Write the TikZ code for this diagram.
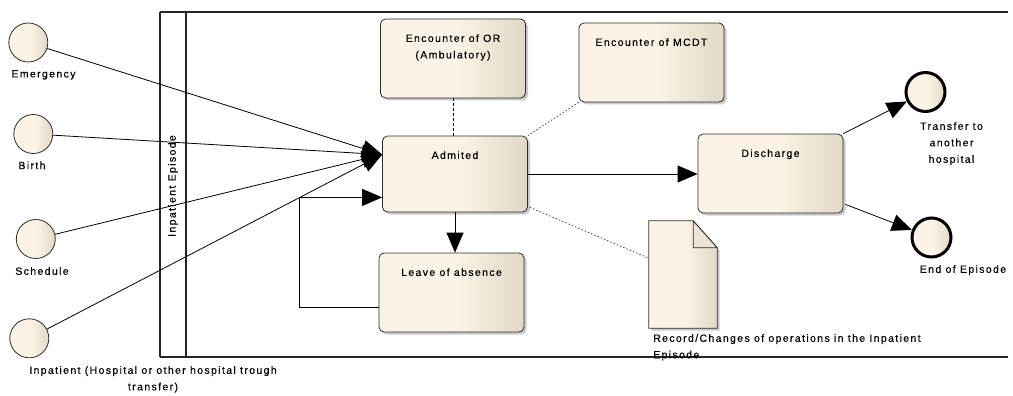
\documentclass[tikz,border=0pt]{standalone}
\usepackage{fontspec}
\newfontfamily\diagfont{Liberation Sans}[LetterSpace=13, FakeBold=0.35]
\usetikzlibrary{arrows.meta,shadows,calc}

\definecolor{boxlight}{RGB}{251,243,229}
\definecolor{boxdark}{RGB}{226,216,198}
\definecolor{edgegray}{RGB}{45,45,45}
\pgfdeclarehorizontalshading{beige}{100bp}{color(0bp)=(boxlight); color(25bp)=(boxlight); color(52bp)=(boxlight); color(75bp)=(boxdark); color(100bp)=(boxdark)}

\tikzset{
  every node/.style={font=\diagfont\fontsize{10.5}{16.5}\selectfont},
  softshadow/.style={drop shadow={shadow xshift=2.5pt, shadow yshift=-2.5pt, fill=black!35, opacity=0.6}},
  task/.style={draw=edgegray, line width=0.8pt, rounded corners=5pt, shade, shading=beige,
    minimum width=145, minimum height=79, inner sep=0, softshadow},
  tasktext/.style={anchor=north, yshift=-15.5pt, align=center, inner sep=0},
  startev/.style={circle, draw=edgegray, line width=0.8pt, shade, shading=beige, minimum size=39, inner sep=0},
  endev/.style={circle, draw=black, line width=3pt, shade, shading=beige, minimum size=39, inner sep=0},
  lbl/.style={anchor=north, align=center, inner sep=0},
  flow/.style={draw=black, line width=0.8pt, -{Triangle[length=20pt,width=17pt]}},
  assocdash/.style={draw=black, line width=0.7pt, dash pattern=on 3pt off 2pt},
  assocdot/.style={draw=black!80, line width=0.7pt, dash pattern=on 1.5pt off 2pt},
  poolline/.style={draw=black!85, line width=1.4pt},
}

\begin{document}
\begin{tikzpicture}[x=1pt, y=-1pt]
\useasboundingbox (0,0) rectangle (1013,396);

% pool and lane
\draw[poolline] (160,12) -- (1008,12);
\draw[poolline] (160,357) -- (1008,357);
\draw[poolline] (160,12) -- (160,357);
\draw[poolline] (186,12) -- (186,357);
\node[rotate=90, inner sep=0] (lane) at (173,186) {Inpatient Episode};

% start events
\node[startev] (em) at (28.3,42.5) {};
\node[startev] (bi) at (33.3,134) {};
\node[startev] (sc) at (35.8,239) {};
\node[startev] (ip) at (29.3,338.3) {};
\node[lbl] (eml) at (43.5,70) {Emergency};
\node[lbl] (bil) at (32,161.3) {Birth};
\node[lbl] (scl) at (42,267) {Schedule};
\node[lbl] (ipl) at (153,366) {Inpatient (Hospital or other hospital trough\\transfer)};

% tasks
\node[task] (or) at (453,58.5) {};
\node[tasktext] (ort) at (or.north) {Encounter of OR\\(Ambulatory)};
\node[task, minimum height=76] (adm) at (455,174) {};
\node[tasktext] (admt) at (adm.north) {Admited};
\node[task] (mcdt) at (651.5,62.5) {};
\node[tasktext] (mcdtt) at (mcdt.north) {Encounter of MCDT};
\node[task] (dis) at (770.5,173.5) {};
\node[tasktext] (dist) at (dis.north) {Discharge};
\node[task] (lv) at (451.5,292.5) {};
\node[tasktext] (lvt) at (lv.north) {Leave of absence};

% data object
\node[minimum width=68, minimum height=107, inner sep=0] (doc) at (683,274.5) {};
\path[draw=edgegray, line width=0.8pt, shade, shading=beige, softshadow]
  (doc.north west) -- ($(doc.north east)+(-24,0)$) -- ($(doc.north east)+(0,27)$)
  -- (doc.south east) -- (doc.south west) -- cycle;
\path[draw=edgegray, line width=0.8pt, fill=boxdark!55!boxlight, line join=round]
  ($(doc.north east)+(-24,0)$) -- ($(doc.north east)+(-24,27)$) -- ($(doc.north east)+(0,27)$) -- cycle;
\node[anchor=north west, align=left, inner sep=0] (docl) at (653,334)
  {Record/Changes of operations in the Inpatient\\Episode};

% end events
\node[endev] (tr) at (925.5,92) {};
\node[endev] (ee) at (931.5,237.5) {};
\node[lbl] (trl) at (951.5,122) {Transfer to\\another\\hospital};
\node[lbl] (eel) at (963,265) {End of Episode};

% sequence flows
\coordinate (admin) at ($(adm.north west)+(0,19)$);
\coordinate (admback) at ($(adm.south west)+(0,-15)$);
\coordinate (lvout) at ($(lv.south west)+(0,-25)$);
\draw[flow] (em) -- (admin);
\draw[flow] (bi) -- (admin);
\draw[flow] (sc) -- (admin);
\draw[flow] (ip) -- (admin);
\draw[flow] (lvout) -- ++(-79,0) |- (admback);
\draw[flow] (adm.south) -- (adm.south |- lv.north);
\draw[flow] (adm.east) -- (adm.east -| dis.west);
\draw[flow] (dis.north east) -- (tr);
\draw[flow] ($(dis.south east)+(2,-9)$) -- (ee);

% associations
\draw[assocdash] (or.south) -- (or.south |- adm.north);
\draw[assocdot] (mcdt.south west) -- (adm.north east);
\draw[assocdot] ($(adm.south east)+(2,-5)$) -- ($(doc.north west)+(-1,37)$);
\end{tikzpicture}
\end{document}
